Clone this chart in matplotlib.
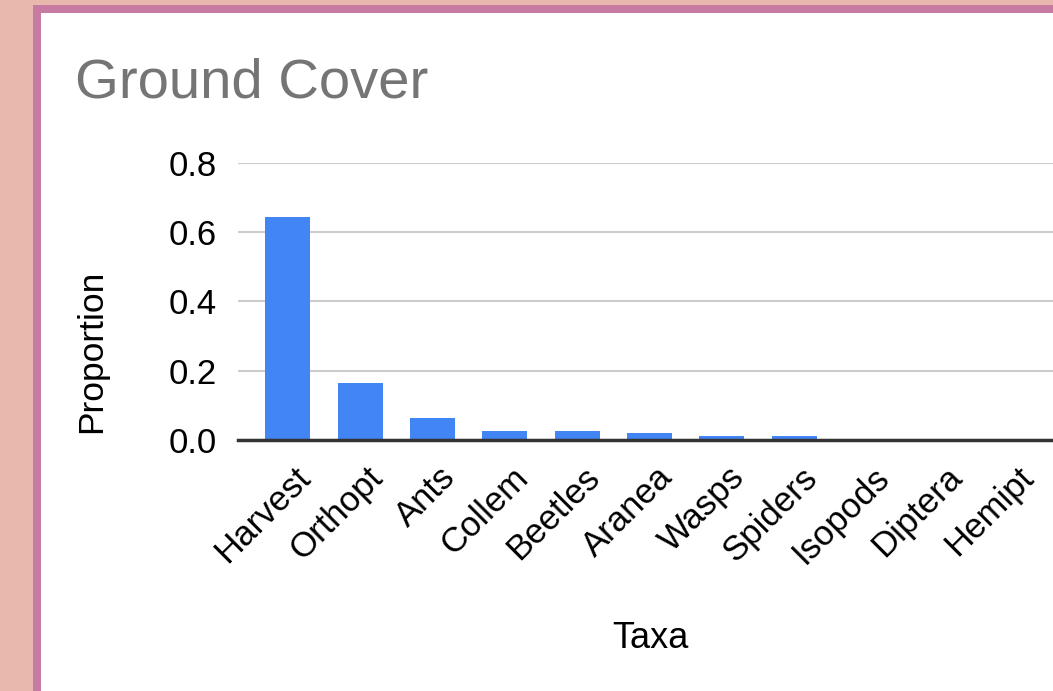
import matplotlib
matplotlib.use('Agg')
import matplotlib.pyplot as plt
from matplotlib.patches import Rectangle
from matplotlib.transforms import ScaledTranslation

# 데이터
taxa = ['Harvest', 'Orthopt', 'Ants', 'Collem', 'Beetles', 'Aranea',
        'Wasps', 'Spiders', 'Isopods', 'Diptera', 'Hemipt']
proportion = [0.644, 0.165, 0.064, 0.026, 0.026, 0.020,
              0.012, 0.012, 0.0, 0.0, 0.0]
y_ticks = [0.0, 0.2, 0.4, 0.6, 0.8]

plt.rcParams['font.family'] = ['Liberation Sans', 'DejaVu Sans']

W, H = 1053, 691
fig = plt.figure(figsize=(W / 100, H / 100), dpi=100)
fig.patch.set_facecolor('#e8b8ae')

# 카드 테두리 + 흰 배경
fig.patches.append(Rectangle((33 / W, 0), 1, 1 - 5 / H, transform=fig.transFigure,
                             facecolor='#c77ba2', edgecolor='none', zorder=-2))
fig.patches.append(Rectangle((41 / W, 0), 1, 1 - 13 / H, transform=fig.transFigure,
                             facecolor='white', edgecolor='none', zorder=-1))

ax = fig.add_axes([238 / W, 1 - 440 / H, (W - 238) / W, 277 / H])
ax.set_facecolor('none')
ax.set_zorder(2)

x = list(range(len(taxa)))
ax.bar(x, proportion, width=0.62, color='#4285f4', zorder=3)

ax.set_xlim(-0.69, 10.58)
ax.set_ylim(0, 0.8)
ax.set_yticks(y_ticks)
ax.set_yticklabels([f'{v:.1f}' for v in y_ticks], fontsize=25)
ax.yaxis.grid(True, color='#cccccc', linewidth=1.5, zorder=0)
ax.set_axisbelow(True)

ax.set_xticks(x)
ax.set_xticklabels(taxa, rotation=45, ha='right', va='top',
                   rotation_mode='anchor', fontsize=25)
ax.tick_params(axis='both', length=0)
ax.tick_params(axis='y', pad=15)
ax.tick_params(axis='x', pad=12)

# 라벨 살짝 오른쪽 아래로
offset = ScaledTranslation(6 / 100, -4 / 100, fig.dpi_scale_trans)
for lbl in ax.get_xticklabels():
    lbl.set_transform(lbl.get_transform() + offset)

for s in ['top', 'right', 'left']:
    ax.spines[s].set_visible(False)
ax.spines['bottom'].set_color('#333333')
ax.spines['bottom'].set_linewidth(2.5)
ax.spines['bottom'].set_zorder(4)

ax.set_ylabel('Proportion', fontsize=25.5)
ax.yaxis.set_label_coords(-(238 - 108) / (W - 238), 0.5 - (351 - 301) / 277)

fig.text(650 / W, 1 - 638 / H, 'Taxa', fontsize=26, ha='center', va='center')
fig.text(75 / W, 1 - 83 / H, 'Ground Cover', fontsize=40.5, color='#757575',
         ha='left', va='center')

plt.savefig('out.png', dpi=100, facecolor=fig.get_facecolor())
